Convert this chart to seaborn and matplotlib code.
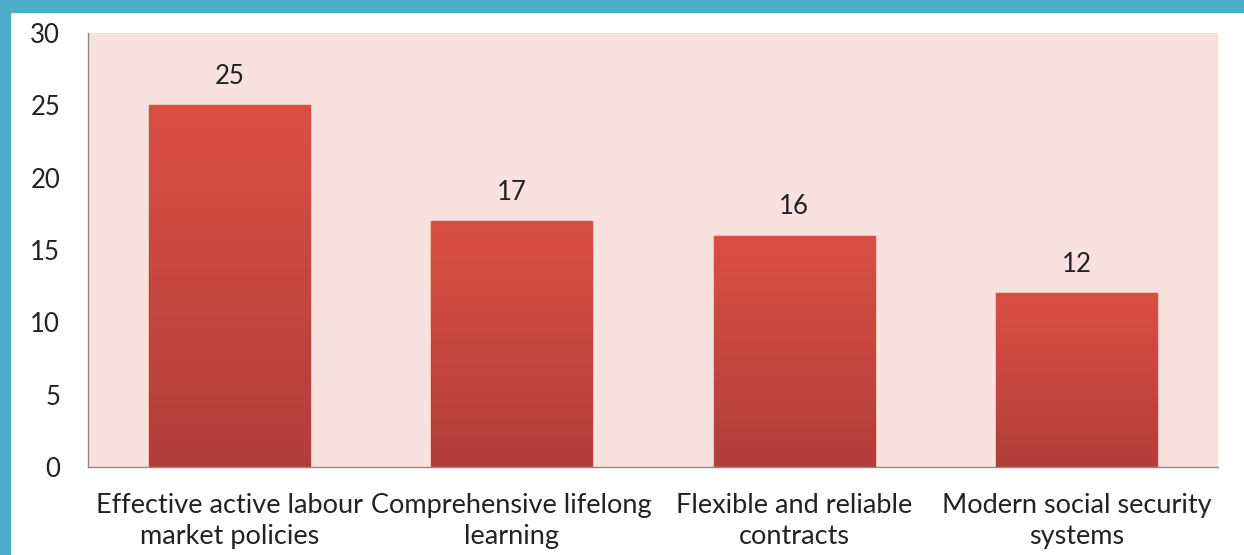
import matplotlib
matplotlib.use("Agg")
import matplotlib.pyplot as plt
import seaborn as sns
import numpy as np
import pandas as pd
from matplotlib.patches import Rectangle
from matplotlib.colors import LinearSegmentedColormap

categories = ["Effective active labour\nmarket policies",
              "Comprehensive lifelong\nlearning",
              "Flexible and reliable\ncontracts",
              "Modern social security\nsystems"]
values = [25, 17, 16, 12]
yticks = [0, 5, 10, 15, 20, 25, 30]

sns.set_theme(style="white")
plt.rcParams['font.family'] = ['Lato', 'DejaVu Sans']

fig = plt.figure(figsize=(12.44, 5.55), dpi=100)
fig.patch.set_facecolor("white")
# blue frame on top and left
fig.patches.append(Rectangle((0, 1 - 12/555), 1, 12/555, transform=fig.transFigure,
                             color="#4BADC8", zorder=0))
fig.patches.append(Rectangle((0, 0), 10/1244, 1, transform=fig.transFigure,
                             color="#4BADC8", zorder=0))

ax = fig.add_axes([88/1244, 1 - 467/555, (1218 - 88)/1244, (467 - 33)/555])
ax.set_facecolor("#F9E2DD")

df = pd.DataFrame({"cat": categories, "val": values})
sns.barplot(data=df, x="cat", y="val", color="#C9443F", width=0.57, ax=ax,
            edgecolor="#B83A36", linewidth=1.0, saturation=1)

# gradient fill on bars
grad = np.linspace(0, 1, 256).reshape(-1, 1)
cmap = LinearSegmentedColormap.from_list("g", ["#B23E3A", "#DA4F44"])
for p in ax.patches:
    x0, y0 = p.get_x(), p.get_y()
    w, h = p.get_width(), p.get_height()
    im = ax.imshow(grad, extent=[x0, x0 + w, y0, y0 + h], origin="lower",
                   cmap=cmap, aspect="auto", zorder=p.get_zorder() + 0.1)
    im.set_clip_path(p)

ax.set_xlim(-0.5, 3.5)
ax.set_ylim(0, 30)
ax.set_yticks(yticks)
ax.tick_params(axis="y", length=0, pad=20, labelsize=18.5, labelcolor="#222222")
ax.tick_params(axis="x", length=0, pad=19, labelsize=19.5, labelcolor="#222222")
for lbl in ax.get_xticklabels():
    lbl.set_linespacing(1.3)
ax.set_xlabel("")
ax.set_ylabel("")

for i, v in enumerate(values):
    ax.text(i, v + 2.0, str(v), ha="center", va="center", fontsize=18.5, color="#222222")

for s in ["top", "right"]:
    ax.spines[s].set_visible(False)
for s in ["left", "bottom"]:
    ax.spines[s].set_color("#8A8A8A")
    ax.spines[s].set_linewidth(1.0)

fig.savefig("out.png", dpi=100)
